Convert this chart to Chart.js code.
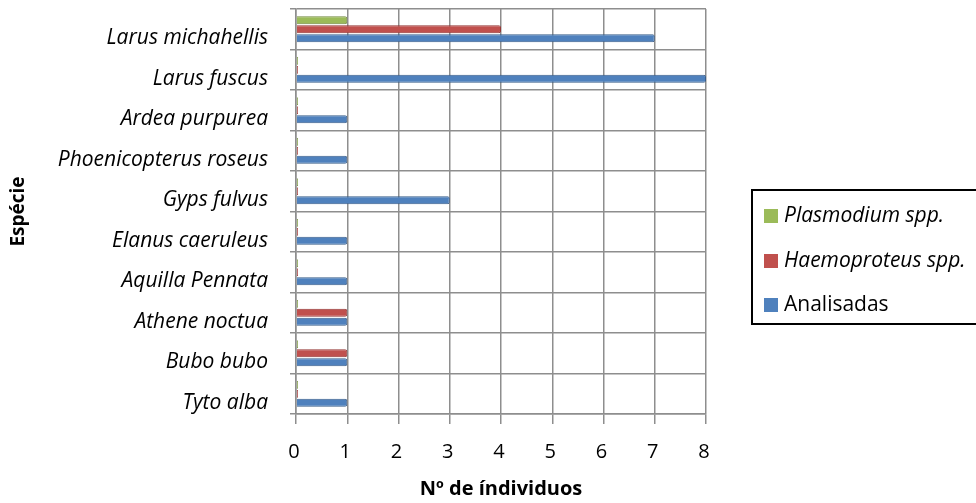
<!DOCTYPE html>
<html>
<head>
<meta charset="utf-8">
<script src="https://cdn.jsdelivr.net/npm/chart.js@4.4.0/dist/chart.umd.min.js"></script>
<style>
  body { margin: 0; background: #fff; }
  #wrap { position: relative; width: 976px; height: 503px; overflow: hidden; }
  #legend {
    position: absolute; left: 751px; top: 189px; width: 250px; height: 136px;
    border: 2px solid #000; box-sizing: border-box; padding: 9px 0 0 11px;
    font-family: "Open Sans", sans-serif; font-size: 21px; color: #000;
  }
  .item { height: 44.5px; line-height: 28px; white-space: nowrap; }
  .box { display: inline-block; width: 14px; height: 14px; margin-right: 6px; vertical-align: -1px; }
</style>
</head>
<body>
<div id="wrap">
  <canvas id="chart" width="976" height="503"></canvas>
  <div id="legend"></div>
</div>
<script>
// species, top to bottom
let especies = ["Larus michahellis", "Larus fuscus", "Ardea purpurea", "Phoenicopterus roseus",
  "Gyps fulvus", "Elanus caeruleus", "Aquilla Pennata", "Athene noctua", "Bubo bubo", "Tyto alba"];

let plasmodium   = [1, 0, 0, 0, 0, 0, 0, 0, 0, 0];
let haemoproteus = [4, 0, 0, 0, 0, 0, 0, 1, 1, 0];
let analisadas   = [7, 8, 1, 1, 3, 1, 1, 1, 1, 1];

let xticks = [0, 1, 2, 3, 4, 5, 6, 7, 8];

const font = "'Open Sans', sans-serif";
const grid = "#8e8e8e";

let ctx = document.getElementById("chart");

let graphChart = new Chart(ctx, {
    type: 'bar',
    data: {
        labels: especies,
        datasets: [{
            label: 'Plasmodium spp.',
            italic: true,
            data: plasmodium,
            backgroundColor: '#9BBB59',
            borderColor: '#71893f',
            borderWidth: 1,
            borderRadius: 2
        }, {
            label: 'Haemoproteus spp.',
            italic: true,
            data: haemoproteus,
            backgroundColor: '#C0504D',
            borderColor: '#943634',
            borderWidth: 1,
            borderRadius: 2
        }, {
            label: 'Analisadas',
            italic: false,
            data: analisadas,
            backgroundColor: '#4F81BD',
            borderColor: '#385d8a',
            borderWidth: 1,
            borderRadius: 2
        }]
    },
    options: {
        indexAxis: 'y',
        responsive: false,
        animation: false,
        minBarLength: 2,
        categoryPercentage: 0.66,
        barPercentage: 0.9,
        layout: { padding: { top: 9, right: 270, bottom: 2, left: 0 } },
        plugins: {
            legend: { display: false },
            tooltip: { enabled: false }
        },
        scales: {
            x: {
                min: 0, max: 8,
                afterBuildTicks: (s) => { s.ticks = xticks.map(v => ({ value: v })); },
                afterFit: (s) => { s.height = 87; },
                grid: { color: grid, lineWidth: 1.5, tickLength: 10 },
                border: { color: grid, width: 1.5 },
                ticks: { color: '#000', font: { family: font, size: 20 }, padding: 16, labelOffset: -2 },
                title: {
                    display: true, text: 'Nº de índividuos', color: '#000',
                    font: { family: font, size: 20, weight: 'bold' }, padding: { top: 13, bottom: 0 }
                }
            },
            y: {
                afterFit: (s) => { s.width = 296; s.paddingTop = 0; s.paddingBottom = 0; },
                grid: { color: grid, lineWidth: 1.5, tickLength: 6 },
                border: { color: grid, width: 1.5 },
                ticks: { color: '#000', font: { family: font, size: 21, style: 'italic' }, padding: 22, labelOffset: 9 },
                title: {
                    display: true, text: 'Espécie', color: '#000',
                    font: { family: font, size: 19, weight: 'bold' }, padding: { top: 7, bottom: 0 }
                }
            }
        }
    }
});

// legend drawn from the datasets
let legend = document.getElementById("legend");
graphChart.data.datasets.forEach(d => {
    let item = document.createElement("div");
    item.className = "item";
    item.innerHTML = `<span class="box" style="background:${d.backgroundColor}"></span>` +
        `<span style="font-style:${d.italic ? 'italic' : 'normal'}">${d.label}</span>`;
    legend.appendChild(item);
});
</script>
</body>
</html>
